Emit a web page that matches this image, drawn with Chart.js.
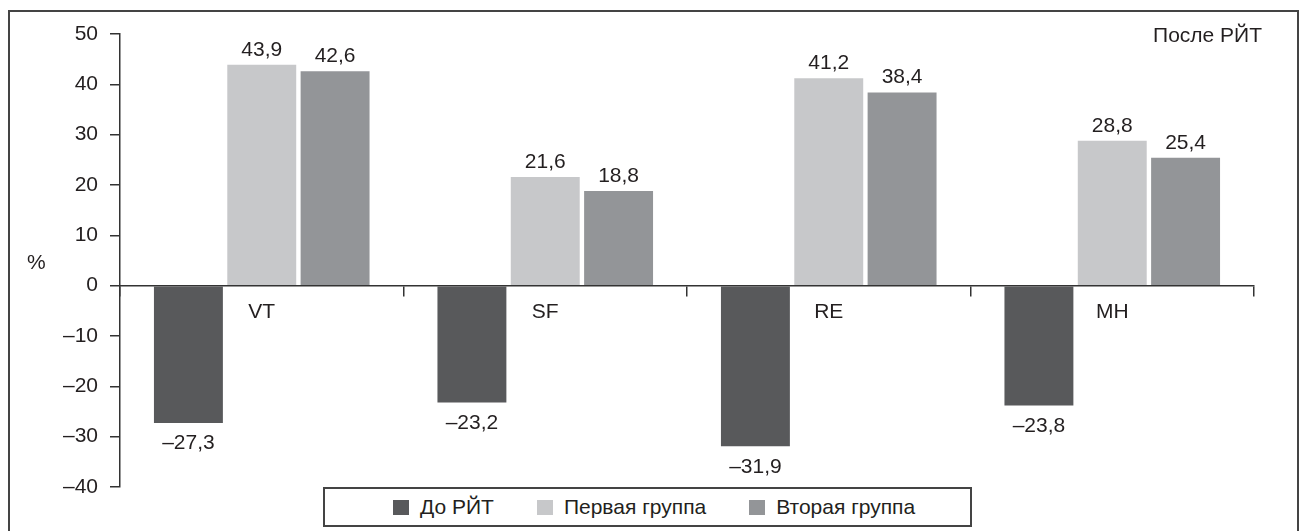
<!DOCTYPE html>
<html>
<head>
<meta charset="utf-8">
<script src="https://cdn.jsdelivr.net/npm/chart.js@4/dist/chart.umd.min.js"></script>
<style>
    html, body { margin: 0; padding: 0; background: #fff; overflow: hidden; }
    #wrap { position: relative; width: 1301px; height: 531px; }
    #frame { position: absolute; left: 8px; top: 10px; width: 1291px; height: 600px; box-sizing: border-box; border: 2px solid #444; }
    #chart { position: absolute; left: 0; top: 0; }
    #legend {
        position: absolute; left: 323px; top: 487px; width: 649px; height: 40px;
        box-sizing: border-box; border: 2px solid #444; background: #fff;
        display: flex; align-items: center; padding-left: 68px;
        font-family: "Liberation Sans", Arial, sans-serif; font-size: 21px; color: #231f20;
    }
    #legend .item { display: flex; align-items: center; margin-right: 43px; }
    #legend .sw { width: 16px; height: 15px; margin-right: 11px; }
</style>
</head>
<body>
<div id="wrap">
    <div id="frame"></div>
    <canvas id="chart" width="1301" height="531"></canvas>
    <div id="legend"></div>
</div>
<script>
const categories = ['VT', 'SF', 'RE', 'MH'];
const seriesNames = ['До РЙТ', 'Первая группа', 'Вторая группа'];
const beforeRit = [-27.3, -23.2, -31.9, -23.8];
const firstGroup = [43.9, 21.6, 41.2, 28.8];
const secondGroup = [42.6, 18.8, 38.4, 25.4];
const seriesColors = ['#58595b', '#c7c8ca', '#939598'];
const yTicksMin = -40, yTicksMax = 50, yTicksStep = 10;

const textColor = '#231f20';
const fontFamily = '"Liberation Sans", Arial, sans-serif';
const fontSize = 21;

function fmt(v) {
    return v.toFixed(1).replace('.', ',').replace('-', '\u2013');
}

const valueLabels = {
    id: 'valueLabels',
    afterDatasetsDraw(chart) {
        const ctx = chart.ctx;
        ctx.save();
        ctx.font = fontSize + 'px ' + fontFamily;
        ctx.fillStyle = textColor;
        ctx.textAlign = 'center';
        chart.data.datasets.forEach((ds, i) => {
            chart.getDatasetMeta(i).data.forEach((bar, j) => {
                const v = ds.data[j];
                if (v >= 0) {
                    ctx.textBaseline = 'alphabetic';
                    ctx.fillText(fmt(v), bar.x, bar.y - 9);
                } else {
                    ctx.textBaseline = 'top';
                    ctx.fillText(fmt(v), bar.x, bar.y + 10);
                }
            });
        });
        ctx.restore();
    },
    afterDraw(chart) {
        const ctx = chart.ctx;
        const y = chart.scales.y;
        ctx.save();
        ctx.font = fontSize + 'px ' + fontFamily;
        ctx.fillStyle = textColor;
        ctx.textBaseline = 'middle';
        ctx.textAlign = 'left';
        ctx.fillText('%', 27, y.getPixelForValue(4.4));
        ctx.textAlign = 'right';
        ctx.fillText('После РЙТ', 1262, y.getPixelForValue(49.5));
        ctx.restore();
    }
};

const chart = new Chart(document.getElementById('chart'), {
    type: 'bar',
    data: {
        labels: categories,
        datasets: [
            { label: seriesNames[0], data: beforeRit, backgroundColor: seriesColors[0] },
            { label: seriesNames[1], data: firstGroup, backgroundColor: seriesColors[1] },
            { label: seriesNames[2], data: secondGroup, backgroundColor: seriesColors[2] }
        ]
    },
    options: {
        responsive: false,
        animation: false,
        categoryPercentage: 0.776,
        barPercentage: 0.94,
        layout: { padding: { left: 0, right: 47, top: 34, bottom: 44 } },
        plugins: { legend: { display: false }, tooltip: { enabled: false } },
        scales: {
            x: {
                position: { y: 0 },
                grid: { offset: true, drawOnChartArea: false, drawTicks: true, tickLength: 10, color: '#333', lineWidth: 1.5 },
                border: { display: true, color: '#333', width: 1.5 },
                ticks: { padding: 4, color: textColor, font: { family: fontFamily, size: fontSize } }
            },
            y: {
                min: yTicksMin,
                max: yTicksMax,
                afterFit(scale) { scale.width = 120; },
                grid: { drawOnChartArea: false, drawTicks: true, tickLength: 10, color: '#333', lineWidth: 1.5 },
                border: { display: true, color: '#333', width: 1.5 },
                ticks: {
                    stepSize: yTicksStep,
                    padding: 12,
                    color: textColor,
                    font: { family: fontFamily, size: fontSize },
                    callback: v => String(v).replace('-', '\u2013')
                }
            }
        }
    },
    plugins: [valueLabels]
});

const legendEl = document.getElementById('legend');
seriesNames.forEach((name, i) => {
    const item = document.createElement('div');
    item.className = 'item';
    const sw = document.createElement('span');
    sw.className = 'sw';
    sw.style.background = seriesColors[i];
    item.appendChild(sw);
    item.appendChild(document.createTextNode(name));
    legendEl.appendChild(item);
});
</script>
</body>
</html>
